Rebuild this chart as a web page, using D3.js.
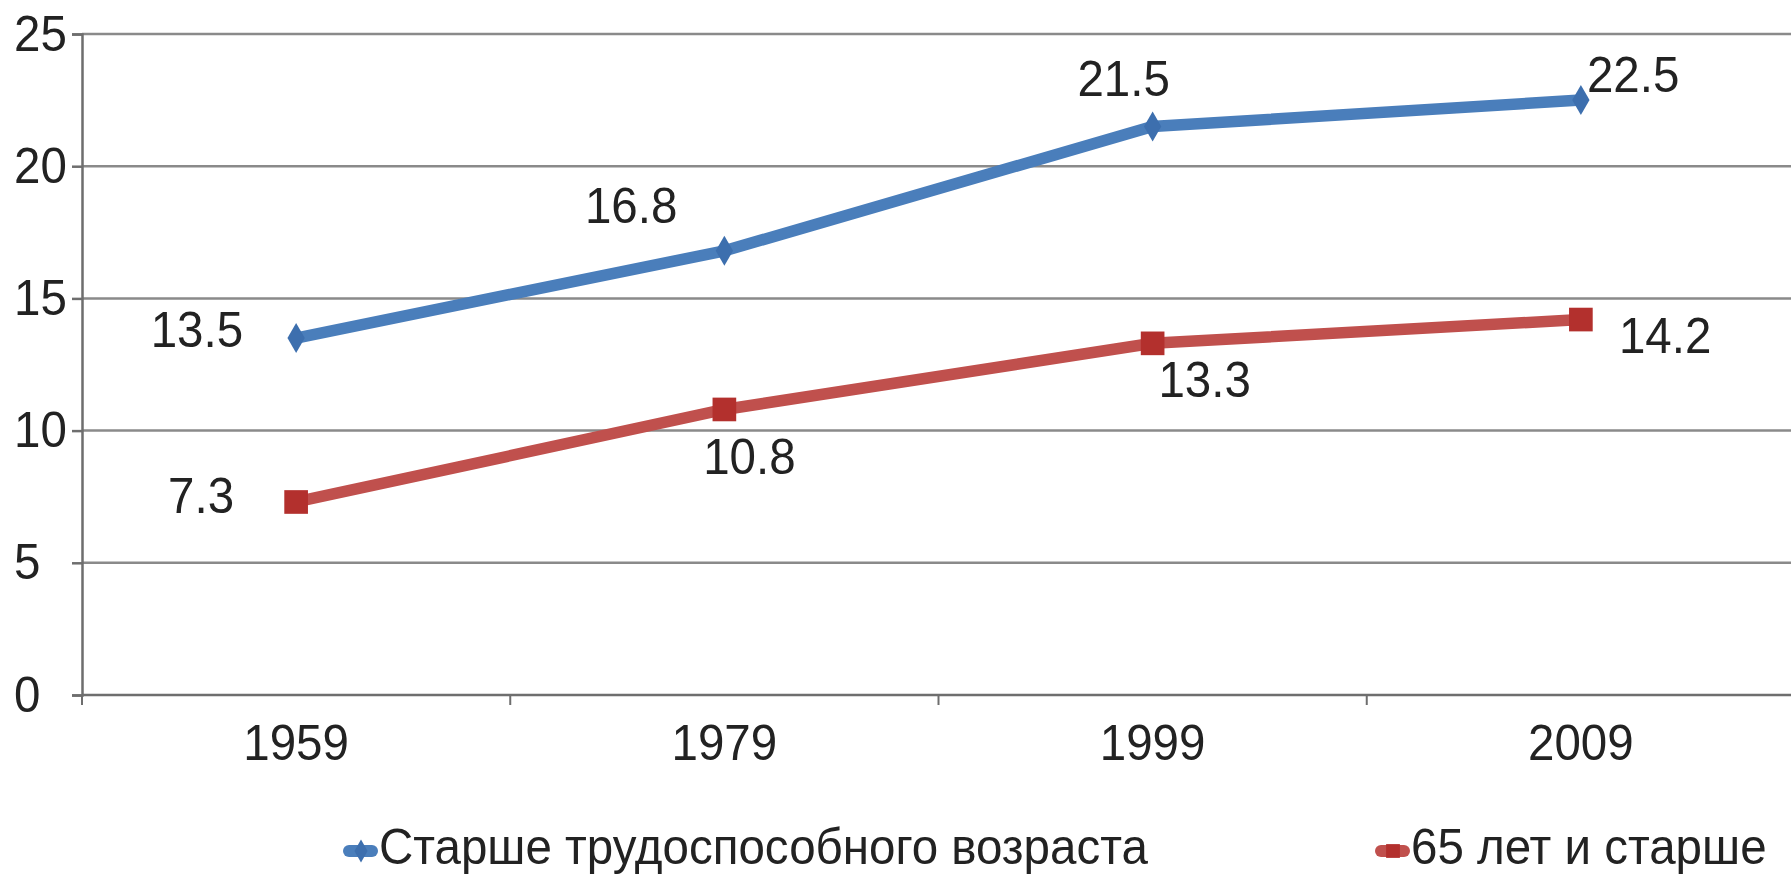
<!DOCTYPE html>
<html>
<head>
<meta charset="utf-8">
<script src="https://cdn.jsdelivr.net/npm/d3@7"></script>
<style>
  body { margin:0; background:#fff; }
  text { font-family:'Liberation Sans', Arial, sans-serif; fill:#222; }
</style>
</head>
<body>
<script>
var years = ['1959', '1979', '1999', '2009'];
var olderThanWorking = [13.5, 16.8, 21.5, 22.5];
var over65 = [7.3, 10.8, 13.3, 14.2];
var seriesNames = ['Старше трудоспособного возраста', '65 лет и старше'];
var yTicks = [0, 5, 10, 15, 20, 25];

// where each value label sits relative to its point: [anchor, dx, dy]
var labelPlace = [
  [['end', -53, 9], ['end', -47, -28], ['middle', -29, -31], ['start', 6, -8]],
  [['end', -62, 11], ['middle', 25, 65], ['middle', 52, 54], ['start', 38, 33]]
];

var W = 1791, H = 876, fs = 47.5, stretch = 1.06;
var colors = [{line:'#4a7ebb', mark:'#3d6fae'}, {line:'#c0504d', mark:'#b3302d'}];

var svg = d3.select('body').append('svg')
  .attr('width', W)
  .attr('height', H);

var x = d3.scaleBand()
  .domain(years)
  .range([82, 1795]);

var y = d3.scaleLinear()
  .domain([0, 25])
  .range([695, 34]);

// gridlines
svg.append('g')
  .selectAll('line')
  .data(yTicks.slice(1))
  .enter()
  .append('line')
  .attr('x1', 82)
  .attr('x2', W)
  .attr('y1', function(d) { return y(d); })
  .attr('y2', function(d) { return y(d); })
  .attr('stroke', '#8a8a8a')
  .attr('stroke-width', 2.5);

var yAxis = svg.append('g')
  .attr('transform', 'translate(82,0)')
  .call(d3.axisLeft(y).tickValues(yTicks).tickSize(10).tickPadding(7));

var xAxis = svg.append('g')
  .attr('transform', 'translate(0,' + y(0) + ')')
  .call(d3.axisBottom(x).tickSize(0).tickPadding(28));

// category boundary ticks
svg.append('g')
  .selectAll('line')
  .data(years)
  .enter()
  .append('line')
  .attr('x1', function(d) { return x(d); })
  .attr('x2', function(d) { return x(d); })
  .attr('y1', y(0))
  .attr('y2', y(0) + 10)
  .attr('stroke', '#6e6e6e')
  .attr('stroke-width', 2);

[yAxis, xAxis].forEach(function(a) {
  a.select('.domain').attr('stroke', '#6e6e6e').attr('stroke-width', 2.5);
  a.selectAll('.tick line').attr('stroke', '#6e6e6e').attr('stroke-width', 2.5);
  a.selectAll('.tick text')
    .style('font-size', fs + 'px')
    .attr('fill', '#222')
    .attr('transform', 'scale(1,' + stretch + ')');
});
xAxis.select('.domain').attr('d', 'M82,0H' + W);
// y labels are left aligned in the original
yAxis.selectAll('.tick text')
  .attr('text-anchor', 'start')
  .attr('x', -68);

var line = d3.line()
  .x(function(d, i) { return x(years[i]) + x.bandwidth() / 2; })
  .y(function(d) { return y(d); });

var diamond = d3.symbol().type(d3.symbolDiamond).size(260);
var square = d3.symbol().type(d3.symbolSquare).size(560);

[olderThanWorking, over65].forEach(function(vals, s) {
  var g = svg.append('g');
  g.append('path')
    .attr('d', line(vals))
    .attr('fill', 'none')
    .attr('stroke', colors[s].line)
    .attr('stroke-width', 11.5);

  g.selectAll('.mk')
    .data(vals)
    .enter()
    .append('path')
    .attr('transform', function(d, i) {
      return 'translate(' + (x(years[i]) + x.bandwidth() / 2) + ',' + y(d) + ')';
    })
    .attr('d', s === 0 ? diamond : square)
    .attr('fill', colors[s].mark);

  g.selectAll('.lbl')
    .data(vals)
    .enter()
    .append('text')
    .attr('transform', function(d, i) {
      var p = labelPlace[s][i];
      return 'translate(' + (x(years[i]) + x.bandwidth() / 2 + p[1]) + ',' + (y(d) + p[2]) + ') scale(1,' + stretch + ')';
    })
    .attr('text-anchor', function(d, i) { return labelPlace[s][i][0]; })
    .style('font-size', fs + 'px')
    .text(function(d) { return d3.format('.1f')(d); });
});

// legend
var legendX = [346, 1378];
seriesNames.forEach(function(name, s) {
  var lg = svg.append('g').attr('transform', 'translate(' + legendX[s] + ',851)');
  lg.append('line')
    .attr('x1', 3).attr('x2', 26)
    .attr('stroke', colors[s].line)
    .attr('stroke-width', 12)
    .attr('stroke-linecap', 'round');
  lg.append('path')
    .attr('transform', 'translate(15,0)')
    .attr('d', d3.symbol().type(s === 0 ? d3.symbolDiamond : d3.symbolSquare).size(s === 0 ? 150 : 190))
    .attr('fill', colors[s].mark);
  lg.append('text')
    .attr('transform', 'translate(33,13) scale(1,' + stretch + ')')
    .style('font-size', fs + 'px')
    .text(name);
});
</script>
</body>
</html>
